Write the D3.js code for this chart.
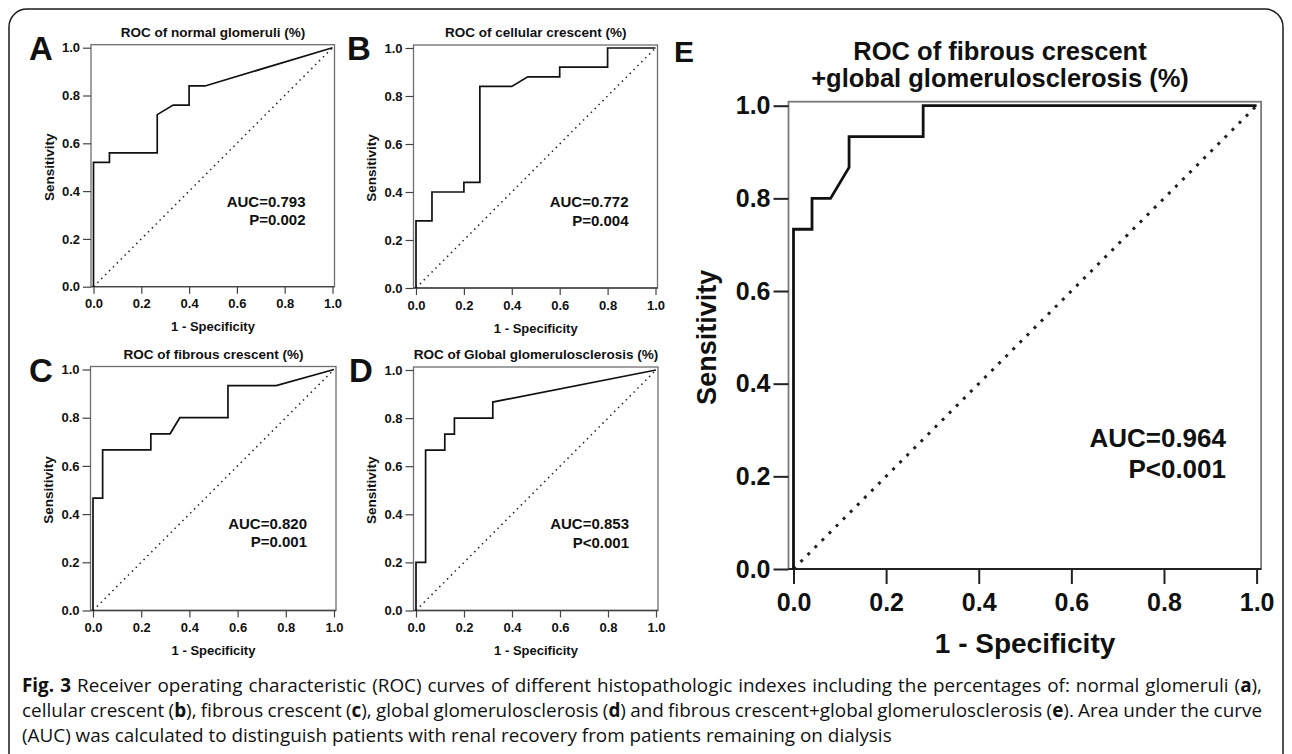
<!DOCTYPE html>
<html><head><meta charset="utf-8">
<script src="https://cdn.jsdelivr.net/npm/d3@7"></script>
<style>body{margin:0;background:#fff} svg{display:block}</style>
</head><body>
<svg id="fig" width="1292" height="754"></svg>
<script>
// ---------- data ----------
const panelLetters = ["A", "B", "C", "D", "E"];
const panelTitles = [
  ["ROC of normal glomeruli (%)"],
  ["ROC of cellular crescent (%)"],
  ["ROC of fibrous crescent (%)"],
  ["ROC of Global glomerulosclerosis (%)"],
  ["ROC of fibrous crescent", "+global glomerulosclerosis (%)"]
];
const aucLabels = ["AUC=0.793", "AUC=0.772", "AUC=0.820", "AUC=0.853", "AUC=0.964"];
const pLabels = ["P=0.002", "P=0.004", "P=0.001", "P<0.001", "P<0.001"];
const xAxisTitle = "1 - Specificity";
const yAxisTitle = "Sensitivity";

const fprA = [0, 0, 0.0667, 0.0667, 0.2667, 0.2667, 0.3333, 0.4, 0.4, 0.4667, 1];
const tprA = [0, 0.52, 0.52, 0.56, 0.56, 0.72, 0.76, 0.76, 0.84, 0.84, 1];
const fprB = [0, 0, 0.0667, 0.0667, 0.2, 0.2, 0.2667, 0.2667, 0.4, 0.4667, 0.6, 0.6, 0.8, 0.8, 1];
const tprB = [0, 0.28, 0.28, 0.40, 0.40, 0.44, 0.44, 0.84, 0.84, 0.88, 0.88, 0.92, 0.92, 1, 1];
const fprC = [0, 0, 0.04, 0.04, 0.24, 0.24, 0.32, 0.36, 0.56, 0.56, 0.76, 1];
const tprC = [0, 0.4667, 0.4667, 0.6667, 0.6667, 0.7333, 0.7333, 0.8, 0.8, 0.9333, 0.9333, 1];
const fprD = [0, 0, 0.04, 0.04, 0.12, 0.12, 0.16, 0.16, 0.32, 0.32, 1];
const tprD = [0, 0.2, 0.2, 0.6667, 0.6667, 0.7333, 0.7333, 0.8, 0.8, 0.8667, 1];
const fprE = [0, 0, 0.04, 0.04, 0.08, 0.12, 0.12, 0.28, 0.28, 1];
const tprE = [0, 0.7333, 0.7333, 0.8, 0.8, 0.8667, 0.9333, 0.9333, 1, 1];
const diagonal = [0, 1];

const tickValues = [0, 0.2, 0.4, 0.6, 0.8, 1.0];
const tickLabels = ["0.0", "0.2", "0.4", "0.6", "0.8", "1.0"];

const captionLines = [
  [["Fig. 3", true], [" Receiver operating characteristic (ROC) curves of different histopathologic indexes including the percentages of: normal glomeruli (", false], ["a", true], ["),", false]],
  [["cellular crescent (", false], ["b", true], ["), fibrous crescent (", false], ["c", true], ["), global glomerulosclerosis (", false], ["d", true], [") and fibrous crescent+global glomerulosclerosis (", false], ["e", true], ["). Area under the curve", false]],
  [["(AUC) was calculated to distinguish patients with renal recovery from patients remaining on dialysis", false]]
];

// ---------- layout ----------
const series = [[fprA, tprA], [fprB, tprB], [fprC, tprC], [fprD, tprD], [fprE, tprE]];
const layout = [
  {x0: 93.5, x1: 332.5, y1: 47.7, y0: 286.7, letterX: 29, big: false},
  {x0: 416, x1: 655.5, y1: 48, y0: 288, letterX: 347, big: false},
  {x0: 93, x1: 334, y1: 369.5, y0: 610.5, letterX: 29, big: false},
  {x0: 416, x1: 656, y1: 370, y0: 610.5, letterX: 349, big: false},
  {x0: 793.5, x1: 1256.6, y1: 105.7, y0: 569, letterX: 674, big: true}
];
const styleSmall = {
  padL: 2.5, padR: 2, padT: 3, frameColor: "#6e6e6e", frameW: 1.3,
  tickColor: "#444", tickW: 1.2, xTick: 7, xPad: 5.5, yTick: 8, yPad: 3, tickFont: 13,
  curveW: 1.7, dotW: 1.5, dash: "1.5,4",
  titleFont: 13.5, titleOff: 11, xTitleFont: 13, xTitleOff: 44.5,
  yTitleFont: 13.5, yTitleOff: 42, letterFont: 33, letterOff: 12,
  aucFont: 15, aucRight: 27, aucOff: 159, pOff: 177.5
};
const styleBig = {
  padL: 5, padR: 4.5, padT: 4, frameColor: "#7a7a7a", frameW: 1.8,
  tickColor: "#222", tickW: 2, xTick: 15, xPad: 9, yTick: 15, yPad: 3, tickFont: 25,
  curveW: 2.8, dotW: 3, dash: "3,7",
  titleFont: 25.5, xTitleFont: 28, xTitleY: 653, yTitleFont: 27, yTitleX: 707,
  letterFont: 30, letterY: 62, aucFont: 26, aucRightX: 1226, aucY: 447, pY: 478,
  titleX: 1000, titleY: 60, titleLine: 27
};

const FONT = "'Liberation Sans', Arial, Helvetica, sans-serif";
const svg = d3.select("#fig");

// outer figure frame
svg.append("path")
  .attr("d", "M9,770 L9,27 A18,18 0 0 1 27,9 L1265,9 A18,18 0 0 1 1283,27 L1283,770")
  .attr("fill", "none").attr("stroke", "#1a1a1a").attr("stroke-width", 1.5);

function drawPanel(i) {
  const L = layout[i], S = L.big ? styleBig : styleSmall;
  const fpr = series[i][0], tpr = series[i][1];
  const x = d3.scaleLinear().domain([0, 1]).range([L.x0, L.x1]);
  const y = d3.scaleLinear().domain([0, 1]).range([L.y0, L.y1]);
  const g = svg.append("g").attr("font-family", FONT).attr("font-weight", "bold").attr("fill", "#111");
  const fl = L.x0 - S.padL, fr = L.x1 + S.padR, ft = L.y1 - S.padT, fb = L.y0;

  g.append("rect").attr("x", fl).attr("y", ft).attr("width", fr - fl).attr("height", fb - ft)
    .attr("fill", "none").attr("stroke", S.frameColor).attr("stroke-width", S.frameW);

  const xa = d3.axisBottom(x).tickValues(tickValues).tickFormat((d, k) => tickLabels[k])
    .tickSize(S.xTick).tickPadding(S.xPad);
  const gx = g.append("g").attr("transform", `translate(0,${fb})`).call(xa);
  const ya = d3.axisLeft(y).tickValues(tickValues).tickFormat((d, k) => tickLabels[k])
    .tickSize(S.yTick).tickPadding(S.yPad);
  const gy = g.append("g").attr("transform", `translate(${fl},0)`).call(ya);
  [gx, gy].forEach(a => {
    a.select(".domain").remove();
    a.attr("font-family", FONT).attr("font-size", S.tickFont).attr("font-weight", "bold");
    a.selectAll("line").attr("stroke", S.tickColor).attr("stroke-width", S.tickW);
    a.selectAll("text").attr("fill", "#111");
  });
  g.append("line").attr("x1", fl).attr("x2", fr).attr("y1", fb).attr("y2", fb)
    .attr("stroke", S.tickColor).attr("stroke-width", S.frameW);

  g.append("line")
    .attr("x1", x(diagonal[0])).attr("y1", y(diagonal[0]))
    .attr("x2", x(diagonal[1])).attr("y2", y(diagonal[1]))
    .attr("stroke", "#222").attr("stroke-width", S.dotW).attr("stroke-dasharray", S.dash);

  const line = d3.line().x(d => x(d[0])).y(d => y(d[1]));
  g.append("path").datum(d3.zip(fpr, tpr)).attr("d", line)
    .attr("fill", "none").attr("stroke", "#111").attr("stroke-width", S.curveW)
    .attr("stroke-linejoin", "miter");

  const cx = (L.x0 + L.x1) / 2, cy = (L.y0 + L.y1) / 2;
  if (!L.big) {
    g.append("text").attr("x", cx).attr("y", L.y1 - S.titleOff).attr("text-anchor", "middle")
      .attr("font-size", S.titleFont).text(panelTitles[i][0]);
    g.append("text").attr("x", cx).attr("y", L.y0 + S.xTitleOff).attr("text-anchor", "middle")
      .attr("font-size", S.xTitleFont).text(xAxisTitle);
    g.append("text").attr("transform", `translate(${fl - S.yTitleOff},${cy}) rotate(-90)`)
      .attr("text-anchor", "middle").attr("dy", "0.35em").attr("font-size", S.yTitleFont).text(yAxisTitle);
    g.append("text").attr("x", L.letterX).attr("y", L.y1 + S.letterOff)
      .attr("font-size", S.letterFont).text(panelLetters[i]);
    g.append("text").attr("x", L.x1 - S.aucRight).attr("y", L.y1 + S.aucOff).attr("text-anchor", "end")
      .attr("font-size", S.aucFont).text(aucLabels[i]);
    g.append("text").attr("x", L.x1 - S.aucRight).attr("y", L.y1 + S.pOff).attr("text-anchor", "end")
      .attr("font-size", S.aucFont).text(pLabels[i]);
  } else {
    const tt = g.append("text").attr("text-anchor", "middle").attr("font-size", S.titleFont);
    panelTitles[i].forEach((t, k) => {
      tt.append("tspan").attr("x", S.titleX).attr("y", S.titleY + k * S.titleLine).text(t);
    });
    g.append("text").attr("x", cx).attr("y", S.xTitleY).attr("text-anchor", "middle")
      .attr("font-size", S.xTitleFont).text(xAxisTitle);
    g.append("text").attr("transform", `translate(${S.yTitleX},${cy}) rotate(-90)`)
      .attr("text-anchor", "middle").attr("dy", "0.35em").attr("font-size", S.yTitleFont).text(yAxisTitle);
    g.append("text").attr("x", L.letterX).attr("y", S.letterY)
      .attr("font-size", S.letterFont).text(panelLetters[i]);
    g.append("text").attr("x", S.aucRightX).attr("y", S.aucY).attr("text-anchor", "end")
      .attr("font-size", S.aucFont).text(aucLabels[i]);
    g.append("text").attr("x", S.aucRightX).attr("y", S.pY).attr("text-anchor", "end")
      .attr("font-size", S.aucFont).text(pLabels[i]);
  }
}
panelLetters.forEach((d, i) => drawPanel(i));

// ---------- caption ----------
const capX = 22, capRight = 1262, capBase = [692, 717, 742];
const capG = svg.append("g").attr("font-family", "'Open Sans', 'Noto Sans', sans-serif")
  .attr("fill", "#111").attr("font-size", 17);
const capTexts = captionLines.map((segs, k) => {
  const t = capG.append("text").attr("x", capX).attr("y", capBase[k]).style("white-space", "pre");
  segs.forEach(seg => t.append("tspan").text(seg[0]).attr("font-weight", seg[1] ? "bold" : "normal"));
  return t;
});
let fs = 17;
const w0 = capTexts[0].node().getComputedTextLength();
fs = Math.max(13, Math.min(19, fs * (capRight - capX) * 0.985 / w0));
capG.attr("font-size", fs);
[0, 1].forEach(k => {
  const t = capTexts[k];
  const w = t.node().getComputedTextLength();
  const n = (t.text().match(/ /g) || []).length;
  if (n > 0) t.attr("word-spacing", ((capRight - capX) - w) / n);
});
</script>
</body></html>
